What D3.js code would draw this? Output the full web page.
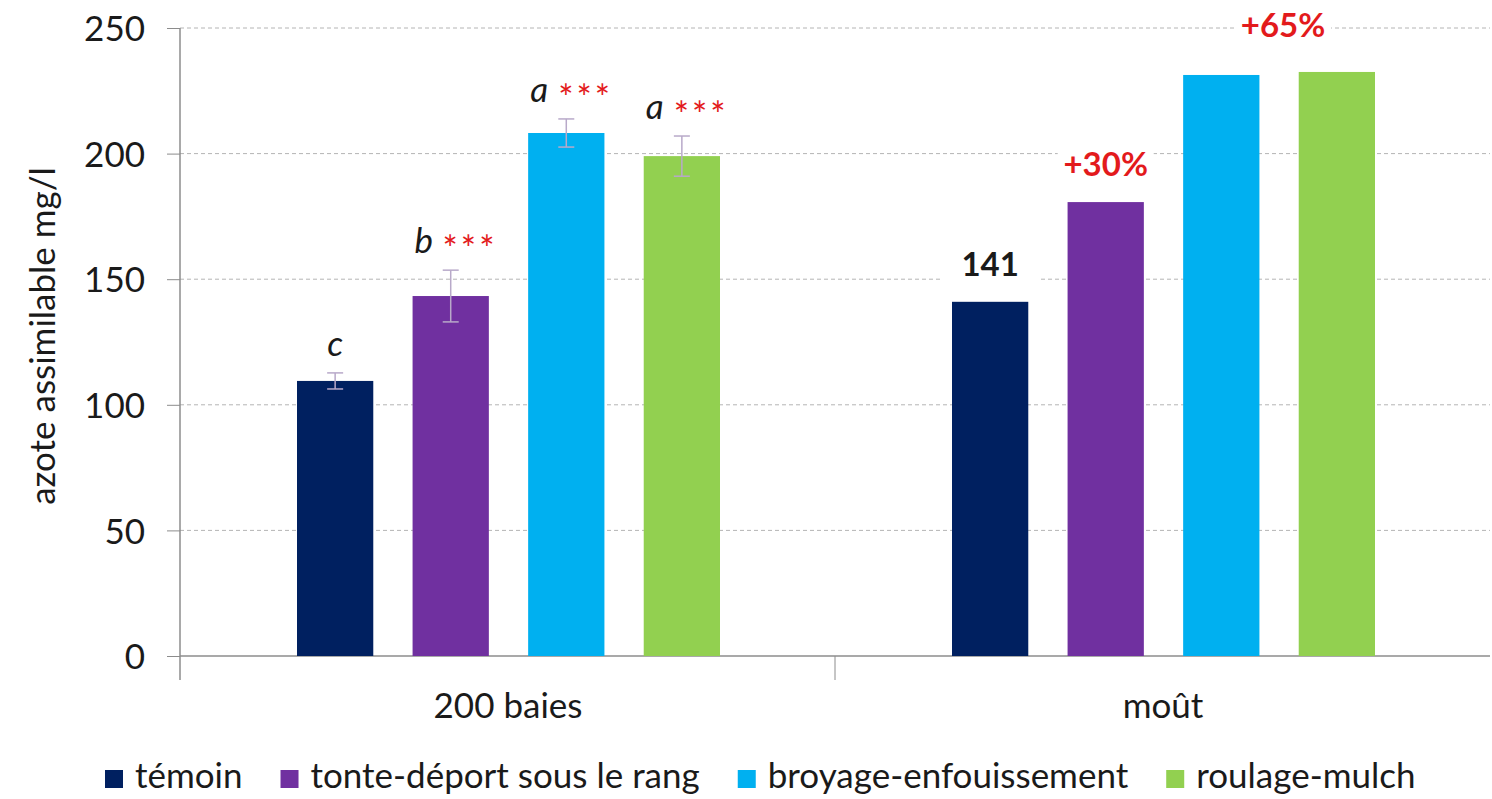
<!DOCTYPE html>
<html lang="fr">
<head>
<meta charset="UTF-8">
<title>Azote assimilable</title>
<script src="https://d3js.org/d3.v7.min.js"></script>
<style>
  body { margin: 0; background: #fff; }
  svg { display: block; font-family: Lato, "Open Sans", sans-serif; }
  .grid line { stroke: #b4b4b4; stroke-dasharray: 4 3; }
</style>
</head>
<body>
<div id="chart"></div>
<script>
  // données
  var groups = ["200 baies", "moût"];
  var series = ["témoin", "tonte-déport sous le rang", "broyage-enfouissement", "roulage-mulch"];
  var colors = ["#002060", "#7030a0", "#00b0f0", "#92d050"];
  var baies = [109.5, 143.3, 208.2, 199];
  var baiesErr = [3.2, 10.3, 5.6, 8];
  var mout = [141, 180.7, 231.3, 232.5];
  var letters = ["c", "b", "a", "a"];
  var stars = ["", "***", "***", "***"];
  var moutLabels = ["141", "+30%", "", "+65%"];
  var yTicks = [0, 50, 100, 150, 200, 250];

  var W = 1492, H = 799;
  var margin = { top: 28, right: 2, bottom: 143, left: 180 };
  var width = W - margin.left - margin.right;
  var height = H - margin.top - margin.bottom;

  var svg = d3.select("#chart").append("svg")
    .attr("width", W).attr("height", H);
  var g = svg.append("g").attr("transform", "translate(" + margin.left + "," + margin.top + ")");

  var x0 = d3.scaleBand().domain(groups).range([0, 1310]);
  var x1 = d3.scaleBand().domain(series).range([117, 540]).paddingInner(0.34).paddingOuter(0);
  var y = d3.scaleLinear().domain([0, 250]).range([height, 0]);

  // grille
  g.append("g").attr("class", "grid")
    .selectAll("line").data(yTicks.slice(1)).enter().append("line")
    .attr("x1", 0).attr("x2", x0.range()[1])
    .attr("y1", d => y(d)).attr("y2", d => y(d));

  // axe y
  var yAxis = g.append("g").call(d3.axisLeft(y).tickValues(yTicks).tickSize(13).tickPadding(22));
  yAxis.select(".domain").attr("stroke", "#8c8c8c").attr("stroke-width", 1.5).attr("d", "M0," + (height + 24) + "V0");
  yAxis.selectAll(".tick line").attr("stroke", "#8c8c8c");
  yAxis.selectAll(".tick text").attr("font-size", 35).attr("fill", "#1a1a1a")
    .attr("font-family", "Lato, sans-serif").attr("dy", "0.36em");

  // axe x
  g.append("line").attr("x1", 0).attr("x2", x0.range()[1]).attr("y1", height).attr("y2", height)
    .attr("stroke", "#8c8c8c").attr("stroke-width", 1.5);
  g.append("line")
    .attr("x1", x0(groups[1])).attr("x2", x0(groups[1]))
    .attr("y1", height).attr("y2", height + 24)
    .attr("stroke", "#8c8c8c");
  g.selectAll(".xlab").data(groups).enter().append("text")
    .attr("x", d => x0(d) + 328).attr("y", height + 62)
    .attr("text-anchor", "middle").attr("font-size", 35).attr("fill", "#1a1a1a")
    .text(d => d);

  // titre axe y
  svg.append("text")
    .attr("transform", "translate(55,336) rotate(-90)")
    .attr("text-anchor", "middle").attr("font-size", 35).attr("fill", "#1a1a1a")
    .text("azote assimilable mg/l");

  var data = [baies, mout];
  var gg = g.selectAll(".grp").data(groups).enter().append("g")
    .attr("transform", d => "translate(" + x0(d) + ",0)");

  gg.selectAll("rect").data((d, i) => data[i].map((v, j) => ({ s: series[j], v: v, c: colors[j] })))
    .enter().append("rect")
    .attr("x", d => x1(d.s)).attr("width", x1.bandwidth())
    .attr("y", d => y(d.v)).attr("height", d => height - y(d.v))
    .attr("fill", d => d.c);

  // barres d'erreur (200 baies)
  var eb = g.append("g").attr("transform", "translate(" + x0(groups[0]) + ",0)")
    .selectAll("g").data(baies.map((v, j) => ({ s: series[j], v: v, e: baiesErr[j] })))
    .enter().append("g").attr("stroke", "#b8a9c9").attr("stroke-width", 1.5);
  var cx = d => x1(d.s) + x1.bandwidth() / 2;
  eb.append("line").attr("x1", cx).attr("x2", cx)
    .attr("y1", d => y(d.v + d.e)).attr("y2", d => y(d.v - d.e));
  eb.append("line").attr("x1", d => cx(d) - 8).attr("x2", d => cx(d) + 8)
    .attr("y1", d => y(d.v + d.e)).attr("y2", d => y(d.v + d.e));
  eb.append("line").attr("x1", d => cx(d) - 8).attr("x2", d => cx(d) + 8)
    .attr("y1", d => y(d.v - d.e)).attr("y2", d => y(d.v - d.e));

  // lettres + étoiles
  var ann = g.append("g").attr("transform", "translate(" + x0(groups[0]) + ",0)")
    .selectAll("g").data(baies.map((v, j) => ({ s: series[j], v: v, e: baiesErr[j], l: letters[j], st: stars[j] })))
    .enter().append("g");
  ann.append("text")
    .attr("x", d => d.st ? x1(d.s) + 2 : cx(d))
    .attr("y", d => y(d.v + d.e) - 17)
    .attr("text-anchor", d => d.st ? "start" : "middle")
    .attr("font-size", 35).attr("font-style", "italic").attr("fill", "#1a1a1a")
    .text(d => d.l);
  ann.append("text")
    .attr("x", d => x1(d.s) + 30)
    .attr("y", d => y(d.v + d.e) - 8)
    .attr("font-size", 36).attr("letter-spacing", 3).attr("fill", "#e31a1c")
    .text(d => d.st);

  // étiquettes moût
  var ml = g.append("g").attr("transform", "translate(" + x0(groups[1]) + ",0)")
    .selectAll("g").data(mout.map((v, j) => ({ s: series[j], v: v, l: moutLabels[j], j: j })).filter(d => d.l))
    .enter().append("g");
  // "+65%" centré entre les deux dernières barres
  var lx = d => d.l === "+65%" ? (cx({ s: series[2] }) + cx(d)) / 2 + 4 : cx(d);
  var ly = d => y(d.v) - (d.l === "+65%" ? 35 : 26);
  ml.append("rect")
    .attr("x", d => lx(d) - 48).attr("width", 96)
    .attr("y", d => ly(d) - 30).attr("height", 36)
    .attr("fill", "#fff");
  ml.append("text")
    .attr("x", lx).attr("y", ly)
    .attr("text-anchor", "middle").attr("font-size", 33).attr("font-weight", "bold")
    .attr("fill", d => d.l === "141" ? "#1a1a1a" : "#e31a1c")
    .text(d => d.l);

  // légende
  var legG = svg.append("g").attr("transform", "translate(105,770)");
  var cur = 0;
  series.forEach(function (s, i) {
    var it = legG.append("g").attr("transform", "translate(" + cur + ",0)");
    it.append("rect").attr("width", 18).attr("height", 18).attr("fill", colors[i]);
    var t = it.append("text").attr("x", 30).attr("y", 18).attr("font-size", 35).attr("fill", "#1a1a1a").text(s);
    cur += 30 + t.node().getComputedTextLength() + 38;
  });
</script>
</body>
</html>
